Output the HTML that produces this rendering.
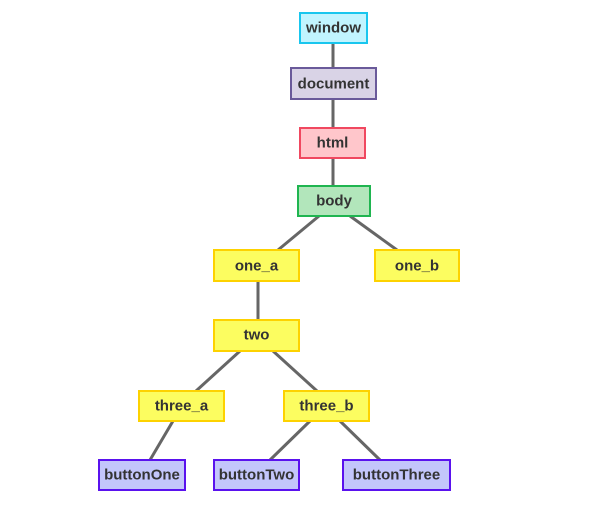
<!DOCTYPE html>
<html><head><meta charset="utf-8"><style>
html,body{margin:0;padding:0;background:#fff;width:610px;height:513px;overflow:hidden}
text{font-family:"Liberation Sans Narrow","Liberation Sans",sans-serif;font-size:15px;font-weight:bold;fill:#333;text-anchor:middle;dominant-baseline:central}
rect{stroke-width:2}
</style></head><body>
<svg width="610" height="513" xmlns="http://www.w3.org/2000/svg">
<g stroke="#666" stroke-width="3">
<line x1="333" y1="43" x2="333" y2="68"/>
<line x1="333" y1="99" x2="333" y2="128"/>
<line x1="333" y1="158" x2="333" y2="186"/>
<line x1="319" y1="216" x2="278" y2="250"/>
<line x1="350" y1="216" x2="397" y2="250"/>
<line x1="258" y1="281" x2="258" y2="320"/>
<line x1="240" y1="351" x2="196" y2="391"/>
<line x1="273" y1="351" x2="317" y2="391"/>
<line x1="173" y1="421" x2="150" y2="460"/>
<line x1="310" y1="421" x2="270" y2="460"/>
<line x1="340" y1="421" x2="380" y2="460"/>
</g>
<rect x="300" y="13" width="67" height="30" fill="#c1f4ff" stroke="#19c6ee"/><text x="333.5" y="28">window</text>
<rect x="291" y="68" width="85" height="31" fill="#d9d3e6" stroke="#6a5a9a"/><text x="333.5" y="84">document</text>
<rect x="300" y="128" width="65" height="30" fill="#ffc6cb" stroke="#f04860"/><text x="332.5" y="143">html</text>
<rect x="298" y="186" width="72" height="30" fill="#b2e6bb" stroke="#1fb550"/><text x="334" y="201">body</text>
<rect x="214" y="250" width="85" height="31" fill="#fcfd60" stroke="#fdd200"/><text x="256.5" y="266">one_a</text>
<rect x="375" y="250" width="84" height="31" fill="#fcfd60" stroke="#fdd200"/><text x="417" y="266">one_b</text>
<rect x="214" y="320" width="85" height="31" fill="#fcfd60" stroke="#fdd200"/><text x="256.5" y="335">two</text>
<rect x="139" y="391" width="85" height="30" fill="#fcfd60" stroke="#fdd200"/><text x="181.5" y="406">three_a</text>
<rect x="284" y="391" width="85" height="30" fill="#fcfd60" stroke="#fdd200"/><text x="326.5" y="406">three_b</text>
<rect x="99" y="460" width="86" height="30" fill="#c3c6fb" stroke="#5a12ee"/><text x="142" y="475">buttonOne</text>
<rect x="214" y="460" width="85" height="30" fill="#c3c6fb" stroke="#5a12ee"/><text x="256.5" y="475">buttonTwo</text>
<rect x="343" y="460" width="107" height="30" fill="#c3c6fb" stroke="#5a12ee"/><text x="396.5" y="475">buttonThree</text>
</svg>
</body></html>
